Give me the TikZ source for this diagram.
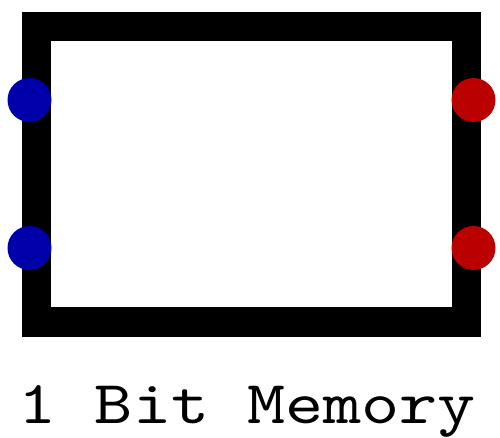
\documentclass[tikz,border=0pt]{standalone}
\usepackage{fontspec}
\newfontfamily\titrefont{lmmono10-regular}[Extension=.otf, FakeStretch=1.19]
\usepackage{tikz}
\usetikzlibrary{calc}
\usetikzlibrary{math}
\definecolor{pinbleu}{HTML}{0000AA}
\definecolor{pinrouge}{HTML}{BB0000}
\tikzset{
    pin entree/.style={circle, fill=pinbleu, inner sep=0pt, minimum size=44pt},
    pin sortie/.style={circle, fill=pinrouge, inner sep=0pt, minimum size=44pt}
}
\begin{document}
\begin{tikzpicture}[x=1pt,y=-1pt]
            \useasboundingbox (0,0) rectangle (500,437);
            \tikzmath{\epaisseur = 29.5;}
                \coordinate (HG) at (36.5,26.5);
                \coordinate (BD) at (466.5,322);
                \draw[line width=\epaisseur pt] (HG) rectangle (BD);
                \node[pin entree] (E1) at (29.5,100) {};
                \node[pin entree] (E2) at (29.5,248) {};
                \node[pin sortie] (S1) at (473.5,100) {};
                \node[pin sortie] (S2) at (473.5,248) {};
                \node[font=\titrefont\fontsize{61}{61}\selectfont, anchor=base] (titre) at (247.5,423) {1 Bit Memory};
            \end{tikzpicture}
\end{document}
